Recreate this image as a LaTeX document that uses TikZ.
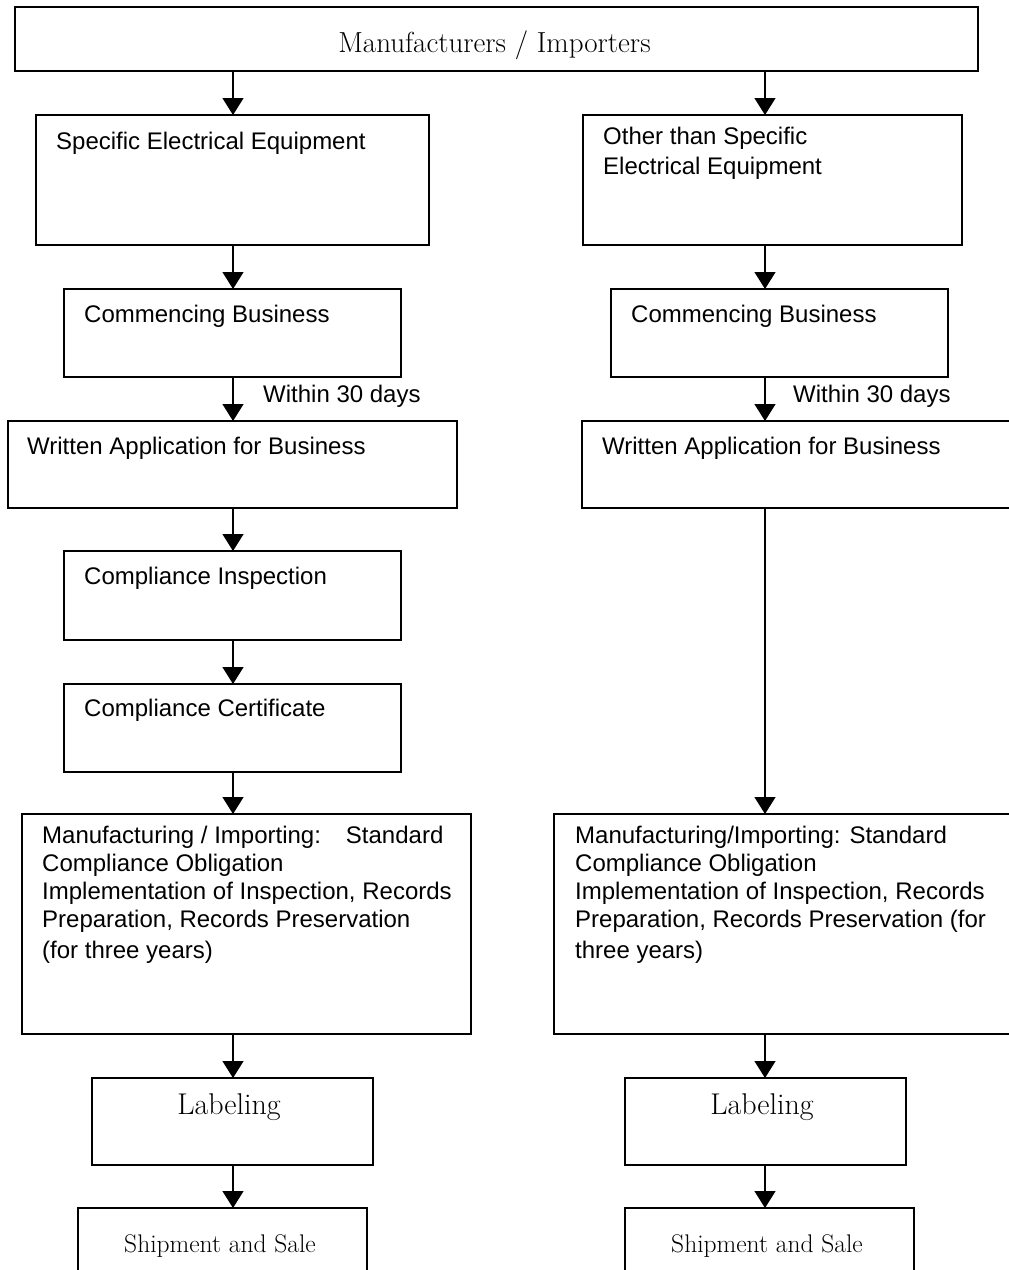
\documentclass[tikz,border=0pt]{standalone}
\usepackage{fontspec}
\newfontfamily\sansf{Liberation Sans}
\usetikzlibrary{arrows.meta}
\begin{document}
\begin{tikzpicture}[x=1pt,y=-1pt,
 box/.style={draw,line width=1.4pt,rectangle,inner sep=0pt,outer sep=0pt},
 arr/.style={line width=1.4pt,-{Triangle[width=21pt,length=17pt]}},
 st/.style={anchor=base west,inner sep=0pt,font=\sansf\fontsize{24}{28}\selectfont},
 sr/.style={anchor=base,inner sep=0pt,font=\fontsize{29}{34}\selectfont},
 srl/.style={anchor=base,inner sep=0pt,font=\fontsize{30}{36}\selectfont},
 srs/.style={anchor=base,inner sep=0pt,font=\fontsize{25.5}{30}\selectfont}]
\useasboundingbox (0,0) rectangle (1009,1270);
\fill[white] (0,0) rectangle (1009,1270);
\clip (0,0) rectangle (1009,1270);
\coordinate (colL) at (233,0);
\coordinate (colR) at (765,0);
% boxes
\node[box,minimum width=963pt,minimum height=64pt] (top) at (496.5,39) {};
\node[box,minimum width=393pt,minimum height=130pt] (sL) at (232.5,180) {};
\node[box,minimum width=379pt,minimum height=130pt] (sR) at (772.5,180) {};
\node[box,minimum width=337pt,minimum height=88pt] (cL) at (232.5,333) {};
\node[box,minimum width=337pt,minimum height=88pt] (cR) at (779.5,333) {};
\node[box,minimum width=449pt,minimum height=87pt] (wL) at (232.5,464.5) {};
\node[box,minimum width=448pt,minimum height=87pt] (wR) at (806,464.5) {};
\node[box,minimum width=337pt,minimum height=89pt] (iL) at (232.5,595.5) {};
\node[box,minimum width=337pt,minimum height=88pt] (ccL) at (232.5,728) {};
\node[box,minimum width=449pt,minimum height=220pt] (mL) at (246.5,924) {};
\node[box,minimum width=476pt,minimum height=220pt] (mR) at (792,924) {};
\node[box,minimum width=281pt,minimum height=87pt] (lL) at (232.5,1121.5) {};
\node[box,minimum width=281pt,minimum height=87pt] (lR) at (765.5,1121.5) {};
\node[box,minimum width=289pt,minimum height=92pt] (shL) at (222.5,1254) {};
\node[box,minimum width=289pt,minimum height=92pt] (shR) at (769.5,1254) {};
% arrows left
\draw[arr] (top.south -| colL) -- (sL.north -| colL);
\draw[arr] (sL.south -| colL) -- (cL.north -| colL);
\draw[arr] (cL.south -| colL) -- (wL.north -| colL);
\draw[arr] (wL.south -| colL) -- (iL.north -| colL);
\draw[arr] (iL.south -| colL) -- (ccL.north -| colL);
\draw[arr] (ccL.south -| colL) -- (mL.north -| colL);
\draw[arr] (mL.south -| colL) -- (lL.north -| colL);
\draw[arr] (lL.south -| colL) -- (shL.north -| colL);
% arrows right
\draw[arr] (top.south -| colR) -- (sR.north -| colR);
\draw[arr] (sR.south -| colR) -- (cR.north -| colR);
\draw[arr] (cR.south -| colR) -- (wR.north -| colR);
\draw[arr] (wR.south -| colR) -- (mR.north -| colR);
\draw[arr] (mR.south -| colR) -- (lR.north -| colR);
\draw[arr] (lR.south -| colR) -- (shR.north -| colR);
% serif texts
\node[sr] (tTop) at (494.5,52) {Manufacturers / Importers};
\node[srl] (tLabL) at (229,1114) {Labeling};
\node[srl] (tLabR) at (762,1114) {Labeling};
\node[srs] (tShL) at (220,1252) {Shipment and Sale};
\node[srs] (tShR) at (767,1252) {Shipment and Sale};
% sans texts
\node[st] (tsL) at (56,149) {Specific Electrical Equipment};
\node[st] (tsR1) at (603,144) {Other than Specific};
\node[st] (tsR2) at (603,174) {Electrical Equipment};
\node[st] (tcL) at (84,322) {Commencing Business};
\node[st] (tcR) at (631,322) {Commencing Business};
\node[st] (twdL) at (263,402) {Within 30 days};
\node[st] (twdR) at (793,402) {Within 30 days};
\node[st] (twL) at (27,454) {Written Application for Business};
\node[st] (twR) at (602,454) {Written Application for Business};
\node[st] (tiL) at (84,584) {Compliance Inspection};
\node[st] (tccL) at (84,716) {Compliance Certificate};
\node[st] (tmL1) at (42,843) {Manufacturing / Importing:\hspace{25pt}Standard};
\node[st] (tmL2) at (42,871) {Compliance Obligation};
\node[st] (tmL3) at (42,899) {Implementation of Inspection, Records};
\node[st] (tmL4) at (42,927) {Preparation, Records Preservation};
\node[st] (tmL5) at (42,958) {(for three years)};
\node[st] (tmR1) at (575,843) {Manufacturing/Importing: Standard};
\node[st] (tmR2) at (575,871) {Compliance Obligation};
\node[st] (tmR3) at (575,899) {Implementation of Inspection, Records};
\node[st] (tmR4) at (575,927) {Preparation, Records Preservation (for};
\node[st] (tmR5) at (575,958) {three years)};
\end{tikzpicture}
\end{document}
